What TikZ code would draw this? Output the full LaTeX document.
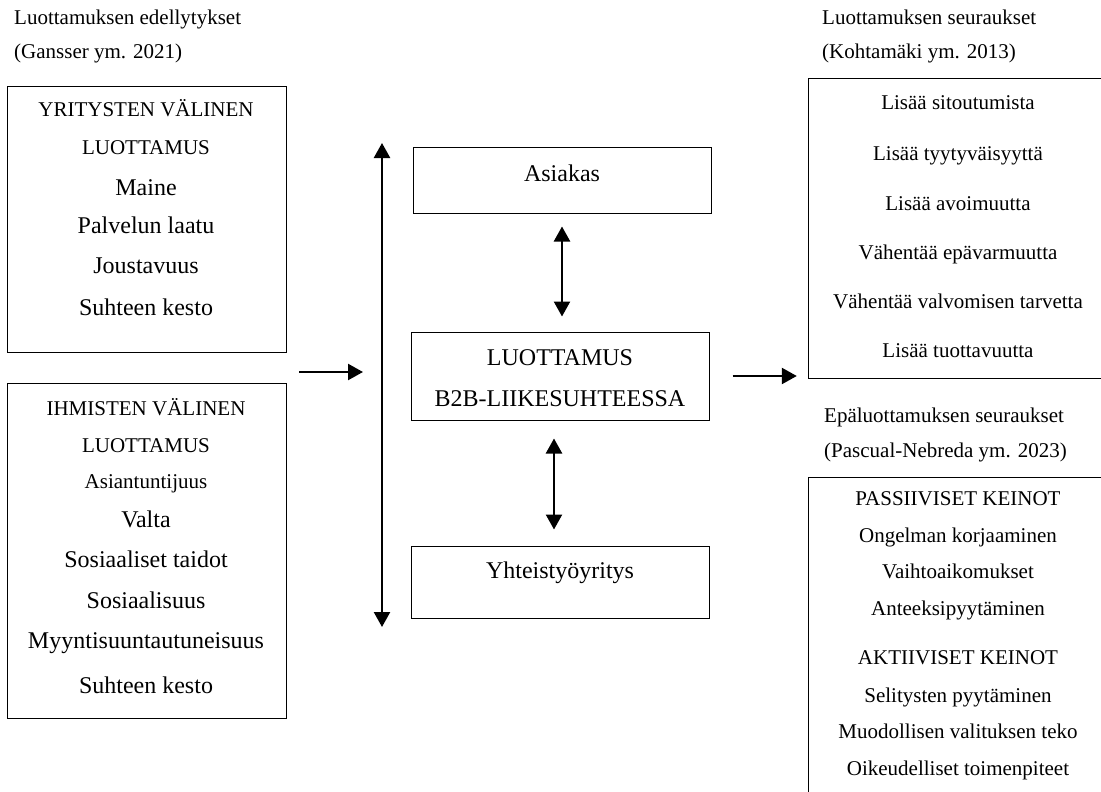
\documentclass[tikz,border=0pt]{standalone}
\usepackage{fontspec}
\setmainfont{Liberation Serif}
\usetikzlibrary{arrows.meta}
\begin{document}
\begin{tikzpicture}[x=1pt,y=-1pt,
  box/.style={draw=black,line width=1pt,inner sep=0pt,minimum width=#1},
  openbox/.style={inner sep=0pt},
  edge/.style={line width=1pt},
  big/.style={font=\fontsize{24}{24}\selectfont,inner sep=0pt,anchor=base},
  small/.style={font=\fontsize{21}{21}\selectfont,inner sep=0pt,anchor=base},
  captext/.style={font=\fontsize{21}{21}\selectfont,inner sep=0pt,anchor=base west},
  arr/.style={line width=2.4pt,-{Triangle[width=16pt,length=15pt]}},
  dbl/.style={line width=2.4pt,{Triangle[width=16pt,length=15pt]}-{Triangle[width=16pt,length=15pt]}}]
\useasboundingbox (0,0) rectangle (1101,792);

% captions
\node[captext] (capL1) at (14,25) {Luottamuksen edellytykset};
\node[captext] (capL2) at (14,59) {(Gansser ym. 2021)};
\node[captext] (capR1) at (822,25) {Luottamuksen seuraukset};
\node[captext] (capR2) at (822,59) {(Kohtamäki ym. 2013)};
\node[captext] (capR3) at (824,422) {Epäluottamuksen seuraukset};
\node[captext] (capR4) at (824,457) {(Pascual-Nebreda ym. 2023)};

% antecedent boxes
\node[box=279pt,minimum height=265pt] (yrit) at (146.5,219.5) {};
\node[small] (y1) at (146,117) {YRITYSTEN VÄLINEN};
\node[small] (y2) at (146,154) {LUOTTAMUS};
\node[big] (y3) at (146,195) {Maine};
\node[big] (y4) at (146,233) {Palvelun laatu};
\node[big] (y5) at (146,273) {Joustavuus};
\node[big] (y6) at (146,315) {Suhteen kesto};

\node[box=279pt,minimum height=335pt] (ihm) at (146.5,550.5) {};
\node[small] (i1) at (146,415) {IHMISTEN VÄLINEN};
\node[small] (i2) at (146,452) {LUOTTAMUS};
\node[small] (i3) at (146,488) {Asiantuntijuus};
\node[big] (i4) at (146,527) {Valta};
\node[big] (i5) at (146,567) {Sosiaaliset taidot};
\node[big] (i6) at (146,608) {Sosiaalisuus};
\node[big] (i7) at (146,648) {Myyntisuuntautuneisuus};
\node[big] (i8) at (146,693) {Suhteen kesto};

% central boxes
\node[box=298pt,minimum height=66pt] (asiakas) at (562,180) {};
\node[big] (a1) at (562,181) {Asiakas};
\node[box=298pt,minimum height=88pt] (luott) at (560,376) {};
\node[big] (l1) at (560,365) {LUOTTAMUS};
\node[big] (l2) at (560,406) {B2B-LIIKESUHTEESSA};
\node[box=298pt,minimum height=72pt] (yht) at (560,582) {};
\node[big] (h1) at (560,578) {Yhteistyöyritys};

% consequence boxes, running off the right edge
\node[openbox,minimum width=298pt,minimum height=299pt] (seur) at (958,228.5) {};
\draw[edge] (seur.north east) -- (seur.north west) -- (seur.south west) -- (seur.south east);
\node[small] (s1) at (958,110) {Lisää sitoutumista};
\node[small] (s2) at (958,160) {Lisää tyytyväisyyttä};
\node[small] (s3) at (958,210) {Lisää avoimuutta};
\node[small] (s4) at (958,259) {Vähentää epävarmuutta};
\node[small] (s5) at (958,308) {Vähentää valvomisen tarvetta};
\node[small] (s6) at (958,357) {Lisää tuottavuutta};

\node[openbox,minimum width=298pt,minimum height=314pt] (epa) at (958,635) {};
\draw[edge] (epa.north east) -- (epa.north west) -- (epa.south west);
\node[small] (e1) at (958,505) {PASSIIVISET KEINOT};
\node[small] (e2) at (958,542) {Ongelman korjaaminen};
\node[small] (e3) at (958,578) {Vaihtoaikomukset};
\node[small] (e4) at (958,615) {Anteeksipyytäminen};
\node[small] (e5) at (958,664) {AKTIIVISET KEINOT};
\node[small] (e6) at (958,702) {Selitysten pyytäminen};
\node[small] (e7) at (958,738) {Muodollisen valituksen teko};
\node[small] (e8) at (958,775) {Oikeudelliset toimenpiteet};

% connectors
\coordinate (vtop) at (382,143);
\coordinate (vbot) at (382,627);
\coordinate (lin) at (299,372);
\draw[dbl] (vtop) -- (vbot);
\draw[arr,shorten >=19pt] (lin) -- (lin -| vtop);
\draw[dbl,shorten <=13pt,shorten >=15pt] (asiakas.south) -- (asiakas.south |- luott.north);
\draw[dbl,shorten <=18pt,shorten >=16pt] ([xshift=-6pt]luott.south) -- ([xshift=-6pt]luott.south |- yht.north);
\draw[arr,shorten <=23pt,shorten >=12pt] (luott.east) -- (luott.east -| seur.west);
\end{tikzpicture}
\end{document}
